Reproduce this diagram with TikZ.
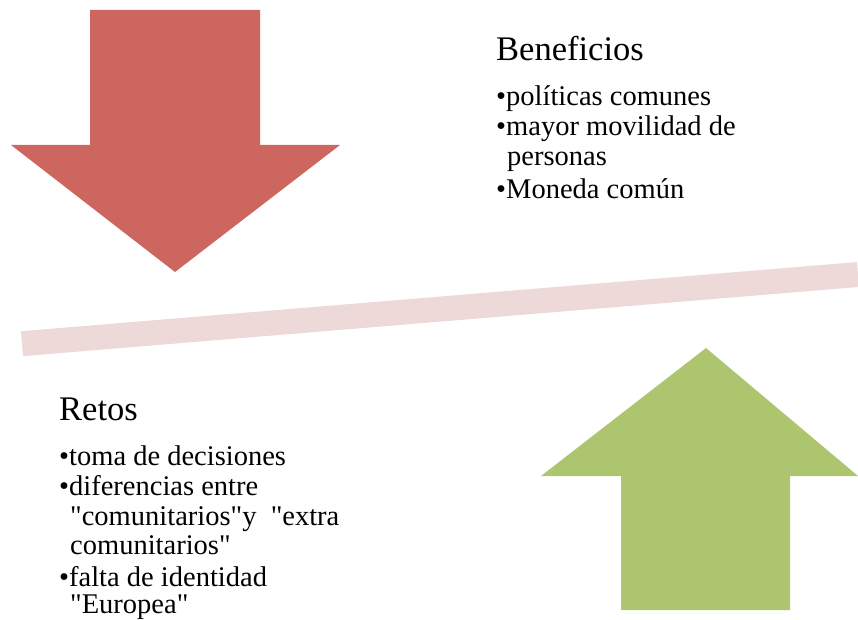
\documentclass[tikz,border=0pt]{standalone}
\usepackage{fontspec}
\setmainfont{Liberation Serif}[Ligatures=TeXOff]
\definecolor{arrowRed}{HTML}{CD665E}
\definecolor{arrowGreen}{HTML}{ADC56E}
\definecolor{barPink}{HTML}{EED9D9}
\begin{document}
\begin{tikzpicture}
[x=1pt, y=-1pt,
 every node/.style={anchor=base west, inner sep=0pt},
 nodeHead/.style={font=\fontsize{34.5}{40}\selectfont},
 nodeItem/.style={font=\fontsize{28.5}{31}\selectfont}
]
\useasboundingbox (0,0) rectangle (858,620);
\fill[arrowRed] (90,10) -- (260,10) -- (260,145) -- (340,145) -- (175,272)
  -- (11,145) -- (90,145) -- cycle;
\draw[barPink, line width=25pt] (22,343.7) -- (858,274.5);
\fill[arrowGreen] (706,348) -- (858,476) -- (790,476) -- (790,610)
  -- (621,610) -- (621,476) -- (541,476) -- cycle;
\node[nodeHead] (BH) at (496,61)  {Beneficios};
\node[nodeItem] (B1) at (496,106) {\textbullet políticas comunes};
\node[nodeItem] (B2) at (496,136) {\textbullet mayor movilidad de};
\node[nodeItem] (B3) at (507,166) {personas};
\node[nodeItem] (B4) at (496,199) {\textbullet Moneda común};
\node[nodeHead] (RH) at (59,420)  {Retos};
\node[nodeItem] (R1) at (59,465)  {\textbullet toma de decisiones};
\node[nodeItem] (R2) at (59,495)  {\textbullet diferencias entre};
\node[nodeItem] (R3) at (70,525)  {"comunitarios"y \ "extra};
\node[nodeItem] (R4) at (70,554)  {comunitarios"};
\node[nodeItem] (R5) at (59,586)  {\textbullet falta de identidad};
\node[nodeItem] (R6) at (70,613)  {"Europea"};
\end{tikzpicture}
\end{document}
